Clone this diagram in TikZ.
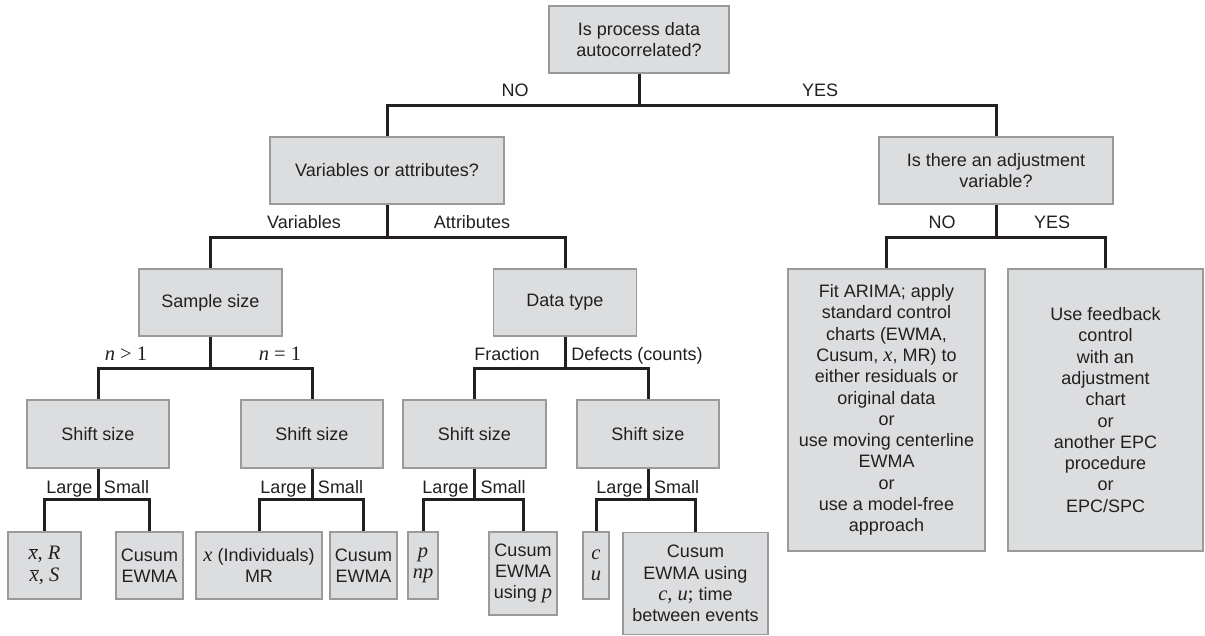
\documentclass[tikz,border=0pt]{standalone}
\usepackage{fontspec}
\setmainfont{Liberation Sans}
\newfontfamily\tms{Liberation Serif}
\newcommand{\mi}[1]{{\fontsize{20.5}{21.3}\selectfont\tms\itshape #1}}
\newcommand{\mr}[1]{{\fontsize{20.5}{21.3}\selectfont\tms #1}}
\newcommand{\xbar}{\ensuremath{\overline{\hbox{\mi{x}}}}}
\definecolor{boxfill}{HTML}{DCDDDF}
\definecolor{boxline}{HTML}{9A9A9A}
\definecolor{ink}{HTML}{231F20}
\begin{document}
\begin{tikzpicture}[x=1pt,y=-1pt,
  box/.style={draw=boxline, fill=boxfill, line width=1.3pt, inner sep=0pt,
    align=center, text=ink, font=\fontsize{18}{21.3}\selectfont},
  lbl/.style={inner sep=0pt, text=ink, font=\fontsize{18}{21.3}\selectfont, anchor=base},
  conn/.style={draw=ink, line width=3pt}]
\useasboundingbox[fill=white] (0,0) rectangle (1205,636);

% ---- boxes ----
\node[box, minimum width=180, minimum height=67] (top) at (639,39.5) {Is process data\\autocorrelated?};
\node[box, minimum width=234, minimum height=67] (var) at (387,170.5) {Variables or attributes?};
\node[box, minimum width=234, minimum height=67] (adj) at (996,170.5) {Is there an adjustment\\variable?};
\node[box, minimum width=143, minimum height=67] (ss) at (210.5,302.5) {Sample size};
\node[box, minimum width=143, minimum height=67] (dt) at (565,302.5) {Data type};
\node[box, minimum width=197, minimum height=282] (arima) at (886.5,410)
  {Fit ARIMA; apply\\standard control\\charts (EWMA,\\Cusum, \mi{x}, MR) to\\either residuals or\\original data\\or\\use moving centerline\\EWMA\\or\\use a model-free\\approach};
\node[box, minimum width=195, minimum height=282] (fb) at (1105.5,410)
  {Use feedback\\control\\with an\\adjustment\\chart\\or\\another EPC\\procedure\\or\\EPC/SPC};
\node[box, minimum width=142, minimum height=68] (sh1) at (98,434) {Shift size};
\node[box, minimum width=142, minimum height=68] (sh2) at (312,434) {Shift size};
\node[box, minimum width=143, minimum height=68] (sh3) at (474.5,434) {Shift size};
\node[box, minimum width=142, minimum height=68] (sh4) at (648,434) {Shift size};
\node[box, minimum width=73, minimum height=67] (ra) at (44.5,565.5) {\xbar\mr{, }\mi{R}\\\xbar\mr{, }\mi{S}};
\node[box, minimum width=67, minimum height=67] (rb) at (149.5,565.5) {Cusum\\EWMA};
\node[box, minimum width=126, minimum height=67] (rc) at (259,565.5) {\mi{x} (Individuals)\\MR};
\node[box, minimum width=67, minimum height=67] (rd) at (363.5,565.5) {Cusum\\EWMA};
\node[box, minimum width=30, minimum height=67] (re) at (423,565.5) {\mi{p}\\\mi{np}};
\node[box, minimum width=68, minimum height=83] (rf) at (523,573.5) {Cusum\\EWMA\\using \mi{p}};
\node[box, minimum width=26, minimum height=67] (rg) at (596,565.5) {\mi{c}\\\mi{u}};
\node[box, minimum width=145, minimum height=102] (rh) at (695.5,583.5) {Cusum\\EWMA using\\\mi{c}\mr{, }\mi{u}\mr{;} time\\between events};

% ---- junctions ----
\path (top.south) ++(0,32) coordinate (j1);
\path (var.south) ++(0,33) coordinate (j2);
\path (adj.south) ++(0,33) coordinate (j3);
\path (ss.south) ++(0,32) coordinate (j4);
\path (dt.south) ++(0,32) coordinate (j5);
\path (sh1.south) ++(0,31) coordinate (j6);
\path (sh2.south) ++(0,31) coordinate (j7);
\path (sh3.south) ++(0,31) coordinate (j8);
\path (sh4.south) ++(0,31) coordinate (j9);

% ---- connectors ----
\draw[conn] (top.south) -- (j1);
\draw[conn] (var.north) |- (j1) -| (adj.north);
\draw[conn] (var.south) -- (j2);
\draw[conn] (ss.north) |- (j2) -| (dt.north);
\draw[conn] (adj.south) -- (j3);
\draw[conn] (arima.north) |- (j3) -| (fb.north);
\draw[conn] (ss.south) -- (j4);
\draw[conn] (sh1.north) |- (j4) -| (sh2.north);
\draw[conn] (dt.south) -- (j5);
\draw[conn] (sh3.north) |- (j5) -| (sh4.north);
\draw[conn] (sh1.south) -- (j6);
\draw[conn] (ra.north) |- (j6) -| (rb.north);
\draw[conn] (sh2.south) -- (j7);
\draw[conn] (rc.north) |- (j7) -| (rd.north);
\draw[conn] (sh3.south) -- (j8);
\draw[conn] (re.north) |- (j8) -| (rf.north);
\draw[conn] (sh4.south) -- (j9);
\draw[conn] (rg.north) |- (j9) -| (rh.north);

% ---- labels ----
\node[lbl] (l1) at (515,97) {NO};
\node[lbl] (l2) at (820,97) {YES};
\node[lbl] (l3) at (304,229) {Variables};
\node[lbl] (l4) at (472,229) {Attributes};
\node[lbl] (l5) at (942,229) {NO};
\node[lbl] (l6) at (1052,229) {YES};
\node[lbl] (l7) at (126,360) {\mi{n} \mr{>} \mr{1}};
\node[lbl] (l8) at (280,360) {\mi{n} \mr{=} \mr{1}};
\node[lbl] (l9) at (507,360) {Fraction};
\node[lbl] (l10) at (637,360) {Defects (counts)};
\node[lbl] (l11) at (69.5,493) {Large};
\node[lbl] (l12) at (126.5,493) {Small};
\node[lbl] (l13) at (283.5,493) {Large};
\node[lbl] (l14) at (340.5,493) {Small};
\node[lbl] (l15) at (445.5,493) {Large};
\node[lbl] (l16) at (503,493) {Small};
\node[lbl] (l17) at (619.5,493) {Large};
\node[lbl] (l18) at (676.5,493) {Small};
\end{tikzpicture}
\end{document}
